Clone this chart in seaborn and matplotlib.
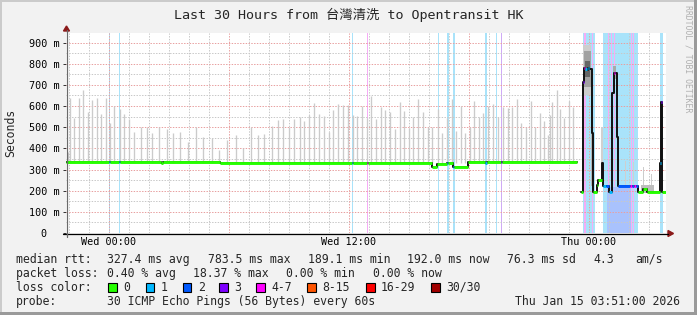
import numpy as np
import pandas as pd
import matplotlib
matplotlib.use("Agg")
import matplotlib.pyplot as plt
from matplotlib.patches import Rectangle, Polygon
from matplotlib.lines import Line2D
import seaborn as sns

sns.set_style("white")
plt.rcParams["font.family"] = ["DejaVu Sans Mono", "Noto Sans CJK SC"]

W, H = 697, 315

# ---------------- text ----------------
title = "Last 30 Hours from 台灣清洗 to Opentransit HK"
ylabel = "Seconds"
watermark = "RRDTOOL / TOBI OETIKER"

x_ticks_h = [0, 12, 24]                      # hours since Wed 00:00
x_tick_labels = ["Wed 00:00", "Wed 12:00", "Thu 00:00"]
y_ticks = [0, 100, 200, 300, 400, 500, 600, 700, 800, 900]   # ms
y_tick_labels = ["0  ", "100 m", "200 m", "300 m", "400 m", "500 m",
                 "600 m", "700 m", "800 m", "900 m"]

rtt_label = "median rtt:"
rtt_stats = ["327.4 ms avg", "783.5 ms max", "189.1 ms min", "192.0 ms now",
             "76.3 ms sd", "4.3", "am/s"]
loss_label = "packet loss:"
loss_stats = ["0.40 % avg", "18.37 % max", "0.00 % min", "0.00 % now"]
color_label = "loss color:"
loss_names = ["0", "1", "2", "3", "4-7", "8-15", "16-29", "30/30"]
loss_colors = ["#26ff00", "#00b8ff", "#0059ff", "#7e00ff",
               "#ff00ff", "#ff5500", "#ff0000", "#a10000"]
probe_label = "probe:"
probe_text = "30 ICMP Echo Pings (56 Bytes) every 60s"
timestamp = "Thu Jan 15 03:51:00 2026"

# ---------------- data ----------------
t_start, t_end = -2.15, 27.85

# median rtt, step series: start hour, value (ms), loss class (-1 = uncoloured)
med_t = [-2.15, 0.0, 0.05, 0.5, 0.55, 2.58, 2.72, 5.55, 12.15, 12.2, 12.9, 12.95,
         16.13, 16.38, 16.9, 16.95, 17.2, 17.25, 17.97, 18.8, 18.9, 19.6, 19.65,
         23.4,
         23.58, 23.68, 23.73, 23.78, 23.88, 23.95, 24.0, 24.13, 24.18, 24.22,
         24.38, 24.45, 24.63, 24.72, 24.85, 25.02, 25.13, 25.17, 25.25, 25.3,
         25.38, 25.43, 25.47, 26.05, 26.15, 26.25, 26.35, 26.47, 26.7, 26.88,
         27.55, 27.58, 27.63, 27.67]
med_v = [337, 337, 337, 337, 337, 333, 337, 330, 330, 330, 330, 330,
         314, 327, 330, 330, 314, 314, 337, 331, 337, 337, 337,
         np.nan,
         196, 714, 778, 775, 770, 780, 775, 471, 220, 196,
         228, 250, 333, 220, 220, 196, 440, 660, 754, 754,
         455, 220, 222, 222, 222, 222, 222, 196, 206, 192,
         330, 620, 480, 192]
med_loss = [0, 1, 0, 1, 0, 0, 0, 0, 1, 0, 4, 0,
            0, 0, 1, 0, 1, 0, 0, 1, 0, 3, 0,
            -1,
            0, 3, 4, 1, -1, 1, -1, -1, -1, 0,
            0, 0, -1, 1, 2, 1, -1, -1, 4, -1,
            -1, 1, 2, 4, 2, 4, 2, 0, 0, 0,
            1, 3, 1, 0]

# smoke spikes (hour, top ms)
spike_t = [-2.07, -1.95, -1.73, -1.50, -1.28, -1.07, -0.83, -0.62, -0.40, -0.17,
           0.05, 0.27, 0.55, 0.77, 1.00, 1.27, 1.60, 1.88, 2.17, 2.50, 2.88, 3.22,
           3.55, 3.97, 4.33, 4.72, 5.13, 5.50, 5.92, 6.33, 6.72, 7.08, 7.43, 7.77,
           8.13, 8.43, 8.72, 9.00, 9.27, 9.55, 9.77, 10.00, 10.27, 10.52, 10.77,
           11.00, 11.22, 11.47, 11.70, 11.93, 12.18, 12.42, 12.67, 12.88, 13.10,
           13.35, 13.60, 13.82, 14.05, 14.30, 14.53, 14.77, 15.00, 15.22, 15.47,
           15.72, 15.93, 16.17, 16.43, 16.67, 16.88, 17.13, 17.33, 17.58, 17.80,
           18.05, 18.27, 18.50, 18.72, 18.97, 19.22, 19.47, 19.72, 19.97, 20.17,
           20.38, 20.60, 20.85, 21.10, 21.30, 21.55, 21.77, 21.93, 22.05, 22.17,
           22.38, 22.55, 22.77, 23.00, 23.22]
spike_top = [385, 636, 542, 636, 675, 573, 628, 636, 562, 636,
             520, 601, 585, 562, 537, 479, 502, 502, 471, 502, 490, 471,
             479, 432, 502, 455, 447, 392, 439, 463, 400, 499, 463, 467,
             505, 534, 537, 499, 537, 546, 530, 557, 613, 562, 554,
             479, 581, 609, 604, 604, 557, 553, 601, 545, 648,
             537, 594, 581, 570, 490, 617, 577, 494, 546, 632,
             570, 502, 499, 585, 471, 542, 631, 483, 601, 471,
             502, 624, 546, 565, 601, 609, 546, 594, 589, 594,
             632, 518, 500, 624, 500, 568, 530, 463, 557, 620,
             678, 585, 542, 624, 597]

# smoke around the incident (start h, end h, low ms, high ms, shade)
blk_t0 = [23.72, 23.75, 23.79, 24.12, 24.58, 25.18, 25.78, 26.20, 26.70, 27.10, 26.60]
blk_t1 = [24.12, 24.09, 24.03, 24.20, 24.72, 25.36, 25.83, 26.25, 26.75, 27.15, 27.25]
blk_lo = [650, 690, 735, 220, 330, 730, 225, 220, 200, 196, 188]
blk_hi = [890, 860, 815, 480, 500, 790, 340, 335, 310, 280, 225]
blk_shade = ["#cdcdcd", "#a2a2a2", "#666666", "#b5b5b5", "#d0d0d0",
             "#a8a8a8", "#cfcfcf", "#cfcfcf", "#cccccc", "#cccccc", "#bdbdbd"]

# loss background bands (start h, end h, kind)
band_t0 = [0.0, 0.5, 12.15, 12.88, 16.45, 16.9, 17.2, 18.8, 19.35, 19.6,
           23.7, 23.77, 24.13, 24.72, 24.97, 25.1, 25.25, 26.1, 26.22, 27.55]
band_t1 = [0.05, 0.55, 12.2, 12.97, 16.5, 17.0, 17.3, 18.9, 19.4, 19.65,
           24.3, 23.83, 24.18, 26.45, 25.02, 25.15, 25.3, 26.15, 26.27, 27.68]
band_kind = ["c", "c", "c", "p", "c", "c", "c", "c", "c", "v",
             "c", "p", "p", "c", "p", "p", "p", "p", "p", "c"]
band_colors = {"c": "#a9e3fa", "p": "#f6acf6", "v": "#cfaaf6"}

# deeper blue area under the 2/30 loss stretch
area_t0, area_t1, area_top = 24.88, 26.12, 218

# ---------------- figure ----------------
fig = plt.figure(figsize=(W / 100, H / 100), dpi=100, facecolor="#f2f2f2")


def fx(x):
    return x / W


def fy(y):
    return 1 - y / H


ax = fig.add_axes([fx(66), fy(233), 600 / W, 200 / H])
ax.set_facecolor("white")
ax.set_xlim(t_start, t_end)
ax.set_ylim(0, 945)
for s in ax.spines.values():
    s.set_visible(False)

# bands
for a, b, k in zip(band_t0, band_t1, band_kind):
    ax.axvspan(a, b, color=band_colors[k], lw=0, zorder=1)
ax.fill_between([area_t0, area_t1], 0, area_top, color="#a9c2fd", lw=0, zorder=1.1)

# grid
dots = (0, (1.4, 1.4))
for h in range(-2, 28):
    if h % 6:
        ax.axvline(h, color="#c8c8c8", lw=0.72, ls=dots, zorder=2)
for v in range(50, 945, 100):
    ax.axhline(v, color="#c8c8c8", lw=0.72, ls=dots, zorder=2)
for h in range(0, 28, 6):
    ax.axvline(h, color="#e8a0a0", lw=0.72, ls=dots, zorder=2.1)
for v in range(100, 945, 100):
    ax.axhline(v, color="#e8a0a0", lw=0.72, ls=dots, zorder=2.1)

# smoke
ax.vlines(spike_t, 330, spike_top, color="#cbcbcb", lw=0.95, zorder=3)
for a, b, lo, hi, c in zip(blk_t0, blk_t1, blk_lo, blk_hi, blk_shade):
    ax.fill_between([a, b], lo, hi, color=c, lw=0, zorder=3.1)

# median: black step line (seaborn) + loss coloured segments
seg = np.cumsum(np.isnan(med_v))
rows = []
for i, (t, v) in enumerate(zip(med_t, med_v)):
    if np.isnan(v):
        continue
    rows.append((t, v, seg[i]))
    nxt = med_t[i + 1] if i + 1 < len(med_t) else t_end
    if i + 1 == len(med_t) or np.isnan(med_v[i + 1]):
        rows.append((nxt, v, seg[i]))
df = pd.DataFrame(rows, columns=["t", "v", "seg"])
sns.lineplot(data=df, x="t", y="v", units="seg", estimator=None, sort=False,
             drawstyle="steps-post", color="#101010", lw=1.4, ax=ax, zorder=4)
for i, (t, v, L) in enumerate(zip(med_t, med_v, med_loss)):
    if L < 0 or np.isnan(v):
        continue
    nxt = med_t[i + 1] if i + 1 < len(med_t) else t_end
    ax.hlines(v, t, nxt, color=loss_colors[L], lw=2.1, capstyle="butt", zorder=5)

ax.set_xlabel("")
ax.set_ylabel("")
ax.set_xticks(x_ticks_h, x_tick_labels)
ax.set_yticks(y_ticks, y_tick_labels)
ax.tick_params(axis="x", length=0, pad=3.2, labelsize=7.3, colors="black")
ax.tick_params(axis="y", length=2.2, width=0.7, color="#303030", pad=2.6,
               labelsize=7.3, labelcolor="black", left=True)
if ax.get_legend():
    ax.get_legend().remove()

# axes lines and arrows
fig.add_artist(Line2D([fx(63), fx(668)], [fy(233.5)] * 2, color="black", lw=0.9))
fig.add_artist(Line2D([fx(66.5)] * 2, [fy(237), fy(30)], color="#6a6a6a", lw=0.9))
fig.add_artist(Polygon([(fx(668), fy(230.5)), (fx(668), fy(236.5)), (fx(673.5), fy(233.5))],
                       closed=True, color="#8b1a1a", transform=fig.transFigure))
fig.add_artist(Polygon([(fx(63.5), fy(31)), (fx(69.5), fy(31)), (fx(66.5), fy(26))],
                       closed=True, color="#8b1a1a", transform=fig.transFigure))

# frame
fig.add_artist(Rectangle((0, fy(2)), 1, 2 / H, color="#cbcbcb", transform=fig.transFigure, lw=0))
fig.add_artist(Rectangle((0, 0), 2 / W, 1, color="#cbcbcb", transform=fig.transFigure, lw=0))
fig.add_artist(Rectangle((0, 0), 1, 3 / H, color="#9a9a9a", transform=fig.transFigure, lw=0))
fig.add_artist(Rectangle((fx(694), 0), 3 / W, 1, color="#9a9a9a", transform=fig.transFigure, lw=0))

# texts
fig.text(fx(348.5), fy(15), title, ha="center", va="center", fontsize=9.6)
fig.text(fx(11), fy(133), ylabel, rotation=90, ha="center", va="center", fontsize=8.3)
fig.text(fx(688), fy(5), watermark, rotation=270, ha="center", va="top",
         fontsize=5.9, color="#b0b0b0")

fs = 8.3
fig.text(fx(16), fy(263), rtt_label, fontsize=fs, va="baseline")
for x, s in zip([107.3, 208.3, 308.3, 407.3, 506.7, 593.3, 635], rtt_stats):
    fig.text(fx(x), fy(263), s, fontsize=fs, va="baseline")
fig.text(fx(16), fy(277), loss_label, fontsize=fs, va="baseline")
for x, s in zip([107.3, 192.7, 286, 372.7], loss_stats):
    fig.text(fx(x), fy(277), s, fontsize=fs, va="baseline")
fig.text(fx(16), fy(291), color_label, fontsize=fs, va="baseline")
for bx, name, c in zip([108.3, 145.7, 182.7, 219.3, 256, 307.3, 366, 431],
                       loss_names, loss_colors):
    fig.add_artist(Rectangle((fx(bx), fy(291.5)), 8.5 / W, 9 / H, facecolor=c,
                             edgecolor="black", lw=0.8, transform=fig.transFigure))
    fig.text(fx(bx + 15), fy(291), name, fontsize=fs, va="baseline")
fig.text(fx(16), fy(305), probe_label, fontsize=fs, va="baseline")
fig.text(fx(107.3), fy(305), probe_text, fontsize=fs, va="baseline")
fig.text(fx(680), fy(305), timestamp, fontsize=fs, va="baseline", ha="right")

fig.savefig("out.png", dpi=100, facecolor=fig.get_facecolor())
